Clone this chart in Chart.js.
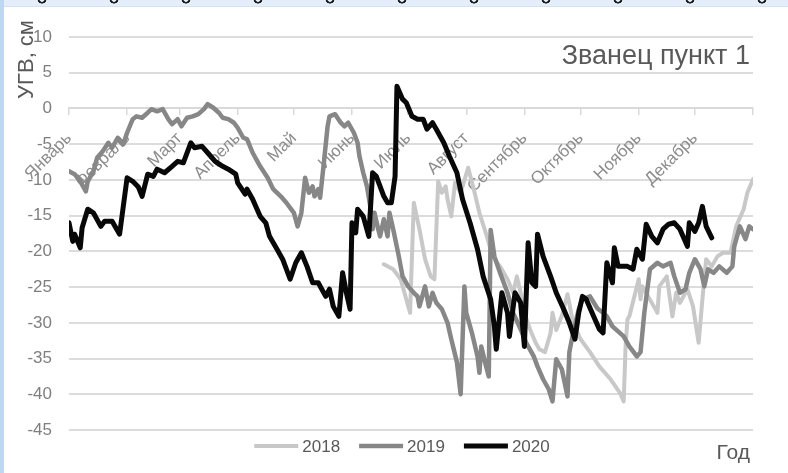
<!DOCTYPE html>
<html lang="ru">
<head>
<meta charset="utf-8">
<title>Званец пункт 1</title>
<script src="https://cdn.jsdelivr.net/npm/chart.js@4.4.1/dist/chart.umd.min.js"></script>
<style>
  html, body { margin: 0; padding: 0; background: #fff; }
  .wrap { position: relative; width: 788px; height: 473px; overflow: hidden; background: #fff; }
  .wrap canvas { position: absolute; left: 0; top: 0; }
  .band-top { position: absolute; left: 0; top: 0; width: 788px; height: 6px; background: #e3eefa; border-bottom: 1px solid #d3e1f0; }
  .rings { position: absolute; left: 0; top: 0; width: 788px; height: 6px;
    background: radial-gradient(circle at 36px -1px, transparent 2.5px, #1e1e1e 3px, #1e1e1e 4.3px, transparent 4.8px);
    background-size: 72px 6px; background-position: 6px 0; }
  .band-left { position: absolute; left: 0; top: 0; width: 4px; height: 473px; background: #bcd8f3; }
</style>
</head>
<body>
<div class="wrap">
  <canvas id="ugvChart" width="788" height="473"></canvas>
  <div class="band-top"></div>
  <div class="rings"></div>
  <div class="band-left"></div>
</div>
<script>
"use strict";

// ── данные (день года → УГВ, см) ─────────────────────────────
const monthStarts = [0, 31, 59, 90, 120, 151, 181, 212, 243, 273, 304, 334, 365];
const monthNames = ["Январь", "Февраль", "Март", "Апрель", "Май", "Июнь", "Июль",
  "Август", "Сентябрь", "Октябрь", "Ноябрь", "Декабрь", ""];

const days2018 = [168, 173, 177, 179, 182, 184, 187, 190, 193, 195,
  197, 199, 201, 202, 204, 206, 209, 213, 216, 219,
  223, 226, 230, 234, 237, 239, 241, 243, 246, 249,
  251, 254, 257, 258, 260, 263, 266, 269, 273, 278,
  283, 289, 294, 296, 297, 298, 299, 304, 305, 306,
  314, 315, 319, 322, 324, 326, 330, 333, 336, 338,
  340, 343, 346, 349, 353, 356, 360, 362, 365];
const vals2018 = [-21.8, -22.5, -23.9, -25.8, -28.6, -13.2, -16.9, -21.1, -23.5, -23.9,
  -10.2, -11.8, -10.9, -12.7, -15.1, -10.4, -11.8, -8.3, -11.3, -14.6,
  -17.9, -20.7, -22.1, -23.9, -25.8, -23.5, -25.8, -28.6, -30.9, -32.8,
  -33.7, -34.1, -31.4, -28.6, -31, -29, -26, -30, -32.3, -34.1,
  -36.1, -37.9, -39.8, -41, -33.3, -29.5, -29.1, -23.9, -26.7, -24.9,
  -28.6, -24.9, -23.5, -29.1, -25.8, -27.2, -25.3, -27.7, -32.8, -26.7,
  -21.1, -22.1, -20.7, -20.2, -20.2, -16.5, -14.1, -11.8, -9.9];

const days2019 = [0, 3, 6, 9, 10, 13, 15, 18, 21, 23,
  26, 29, 31, 34, 36, 39, 42, 44, 47, 50,
  53, 55, 58, 60, 63, 66, 69, 72, 74, 77,
  80, 82, 85, 88, 90, 93, 95, 98, 102, 106,
  109, 113, 116, 120, 122, 124, 126, 128, 130, 131,
  133, 134, 136, 138, 139, 142, 145, 147, 149, 152,
  154, 155, 157, 159, 161, 162, 163, 165, 166, 168,
  170, 171, 173, 176, 178, 181, 184, 186, 187, 190,
  192, 194, 196, 199, 202, 204, 207, 209, 211, 212,
  215, 218, 219, 220, 222, 224, 225, 227, 230, 234,
  237, 241, 244, 248, 250, 253, 256, 258, 260, 263,
  266, 267, 269, 272, 274, 278, 282, 285, 287, 290,
  296, 299, 303, 305, 307, 310, 314, 317, 321, 323,
  326, 329, 331, 334, 337, 339, 341, 344, 347, 351,
  354, 355, 358, 361, 363, 365];
const vals2019 = [-8.8, -9.2, -10.2, -11.6, -10.2, -8.8, -6.9, -6, -4.8, -5.5,
  -4.1, -5, -3.4, -1.5, -1.1, -1.3, -0.6, -0.1, -0.4, -0.1,
  -1.5, -2.2, -1.5, -2.5, -1.3, -1.1, -0.8, -0.1, 0.6, 0.1,
  -0.6, -1.3, -1.5, -2, -2.7, -4.1, -4.3, -6.2, -8.1, -9.7,
  -11.3, -12.3, -13.2, -14.6, -16.5, -14.6, -9.7, -11.8, -10.9, -12.3,
  -11.3, -12.5, -7.6, -2.5, -1.1, -0.8, -2, -2.5, -2, -3.4,
  -4.8, -6.7, -9, -10.9, -14.1, -16.9, -14.6, -16.9, -17.9, -15.5,
  -17.9, -14.6, -16.9, -20.7, -23.5, -24.9, -25.8, -26.3, -27.7, -24.9,
  -27.7, -25.8, -27.2, -28.1, -30, -32.3, -35.5, -40, -24.9, -28.6,
  -31.4, -34.7, -37, -33.3, -35.5, -37.5, -17, -20.7, -23, -25.8,
  -28.6, -30.9, -32.8, -34.7, -36.1, -37.9, -39.3, -41, -35.1, -36.5,
  -40.3, -34.1, -31.4, -28.1, -26.7, -26.3, -28, -28.6, -29.1, -30.5,
  -31.9, -33.3, -34.7, -34.1, -28.6, -22.5, -21.6, -22.1, -21.6, -23.5,
  -25.8, -25.3, -23, -21.1, -22.5, -24.9, -22.5, -23, -22.1, -23,
  -22.1, -19.3, -16.5, -18.3, -16.5, -16.9];

const days2020 = [0, 2, 3, 6, 7, 10, 13, 17, 19, 23,
  27, 31, 34, 37, 39, 42, 45, 47, 51, 55,
  58, 61, 65, 67, 71, 74, 78, 82, 85, 89,
  90, 94, 95, 98, 102, 105, 107, 111, 114, 118,
  121, 124, 127, 130, 133, 137, 139, 141, 144, 146,
  148, 150, 151, 153, 154, 157, 160, 162, 164, 168,
  170, 172, 174, 175, 178, 180, 183, 186, 189, 191,
  194, 196, 200, 203, 207, 210, 214, 218, 221, 225,
  227, 228, 231, 234, 235, 238, 241, 243, 245, 247,
  249, 250, 253, 257, 260, 264, 267, 270, 272, 274,
  276, 280, 283, 285, 287, 290, 291, 293, 298, 301,
  303, 306, 308, 311, 314, 317, 320, 323, 326, 330,
  331, 334, 336, 338, 340, 343];
const vals2020 = [-16, -18.6, -17.6, -19.5, -16.7, -14.1, -14.6, -16.5, -15.8, -15.8,
  -17.6, -9.7, -10.2, -11, -12.3, -9.2, -9.5, -8.5, -9, -8.1,
  -7.4, -7.6, -4.8, -5.5, -5.3, -6.2, -7.4, -8.1, -8.5, -9.2,
  -10.4, -12, -11.3, -12.7, -15.1, -16, -17.9, -19.7, -21.1, -23.9,
  -21.6, -20.2, -22.1, -24.4, -24.4, -26.3, -25.3, -27.7, -29.1, -23,
  -25.8, -28.1, -16, -17.4, -14.1, -15.1, -17.9, -9, -9.5, -12.3,
  -13.2, -13.2, -9.5, 3.1, 1.3, 0.8, -1.1, -1.5, -1.5, -2.9,
  -2, -2.9, -4.8, -6.7, -9, -12.7, -16, -19.7, -23.5, -26.7,
  -30.5, -33.7, -25.8, -28.6, -31.9, -25.8, -27.2, -33.3, -18.8, -24.4,
  -24.9, -17.6, -20.7, -23.5, -25.8, -28.1, -30, -32.3, -28.6, -26.3,
  -26.7, -29.1, -30.9, -31.4, -21.6, -24.4, -19.5, -22.1, -22.1, -22.5,
  -19.7, -21.1, -16.2, -17.9, -18.8, -16.9, -16.2, -16, -16.9, -19.3,
  -16, -17.2, -16, -13.7, -16.5, -18.1];

const FONT = '"Liberation Sans", Arial, sans-serif';
const TITLE = "Званец пункт 1";
const Y_TITLE = "УГВ, см";
const X_TITLE = "Год";

const pts = (d, v) => d.map((x, i) => ({ x, y: v[i] }));

// ── подписи и легенда поверх холста ──────────────────────────
const textPlugin = {
  id: "chartTexts",
  afterDraw(chart) {
    const { ctx, chartArea } = chart;
    ctx.save();
    ctx.fillStyle = "#595959";
    ctx.textBaseline = "alphabetic";
    ctx.textAlign = "right";

    ctx.font = `27px ${FONT}`;
    ctx.fillText(TITLE, chartArea.right - 3, 64);

    ctx.font = `21px ${FONT}`;
    ctx.fillText(X_TITLE, 750, 459);

    // легенда: линия 44px + подпись, по центру ~402
    ctx.font = `17px ${FONT}`;
    ctx.textAlign = "left";
    ctx.textBaseline = "middle";
    const items = chart.data.datasets.map((ds) => ({ ds, w: 44 + 4 + ctx.measureText(ds.label).width }));
    const gap = 19;
    const total = items.reduce((s, it) => s + it.w, 0) + gap * (items.length - 1);
    let x = 402 - total / 2;
    const y = 446;
    items.forEach(({ ds, w }) => {
      ctx.strokeStyle = ds.borderColor;
      ctx.lineWidth = ds.borderWidth;
      ctx.lineCap = "butt";
      ctx.beginPath();
      ctx.moveTo(x, y);
      ctx.lineTo(x + 44, y);
      ctx.stroke();
      ctx.fillStyle = "#595959";
      ctx.fillText(ds.label, x + 48, y + 1);
      x += w + gap;
    });

    ctx.textAlign = "right";
    ctx.textBaseline = "alphabetic";
    ctx.translate(33, 20);
    ctx.rotate(-Math.PI / 2);
    ctx.font = `22px ${FONT}`;
    ctx.fillText(Y_TITLE, 0, 0);
    ctx.restore();
  },
};

new Chart(document.getElementById("ugvChart"), {
  type: "line",
  data: {
    datasets: [
      { label: "2018", data: pts(days2018, vals2018), borderColor: "#c8c8c8", backgroundColor: "#c8c8c8", borderWidth: 4, order: 3 },
      { label: "2019", data: pts(days2019, vals2019), borderColor: "#878787", backgroundColor: "#878787", borderWidth: 4.5, order: 2 },
      { label: "2020", data: pts(days2020, vals2020), borderColor: "#080808", backgroundColor: "#080808", borderWidth: 5, order: 1 },
    ],
  },
  options: {
    responsive: false,
    animation: false,
    layout: { padding: { top: 37, right: 35, bottom: 43, left: 0 } },
    elements: {
      point: { radius: 0, hoverRadius: 0 },
      line: { tension: 0, borderJoinStyle: "round", borderCapStyle: "round" },
    },
    plugins: {
      legend: { display: false },
      tooltip: { enabled: false },
    },
    scales: {
      x: {
        type: "linear",
        position: { y: 0 },
        min: 0,
        max: 365,
        afterBuildTicks: (s) => { s.ticks = monthStarts.map((v) => ({ value: v })); },
        ticks: {
          autoSkip: false,
          minRotation: 45,
          maxRotation: 45,
          padding: 14,
          color: "#8c8c8c",
          font: { family: FONT, size: 17 },
          callback: (v) => monthNames[monthStarts.indexOf(v)] ?? "",
        },
        grid: { drawOnChartArea: false, drawTicks: true, tickLength: 6, color: "#d9d9d9", lineWidth: 1.5 },
        border: { display: true, color: "#d9d9d9", width: 2 },
      },
      y: {
        min: -45,
        max: 10,
        afterFit: (s) => { s.width = 69; },
        ticks: {
          stepSize: 5,
          padding: 17,
          color: "#7f7f7f",
          font: { family: FONT, size: 17 },
        },
        grid: { color: "#dcdcdc", lineWidth: 2, drawTicks: false },
        border: { display: false },
      },
    },
  },
  plugins: [textPlugin],
});
</script>
</body>
</html>
